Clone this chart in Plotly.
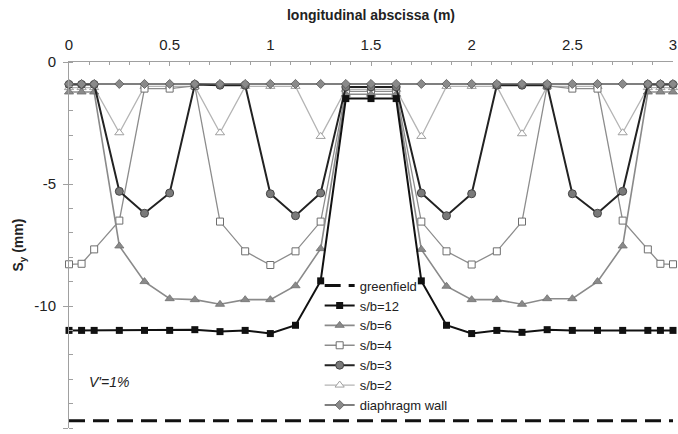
import plotly.graph_objects as go

# longitudinal positions of the computed points (m)
x_pos = [0, 0.0625, 0.125, 0.25, 0.375, 0.5, 0.625, 0.75, 0.875, 1.0, 1.125,
         1.25, 1.375, 1.5, 1.625, 1.75, 1.875, 2.0, 2.125, 2.25, 2.375, 2.5,
         2.625, 2.75, 2.875, 2.9375, 3.0]

# vertical displacement S_y (mm) for each configuration
greenfield_x = [0, 3]
greenfield = [-14.7, -14.7]

sb12 = [-11.0, -11.0, -11.0, -11.0, -11.0, -11.0, -10.97, -11.05, -11.0, -11.13,
        -10.79, -8.97, -1.5, -1.5, -1.5, -8.97, -10.79, -11.13, -11.0, -11.08,
        -10.97, -11.0, -11.0, -11.0, -11.0, -11.0, -11.0]

sb6 = [-1.23, -1.23, -1.23, -7.54, -9.0, -9.7, -9.74, -9.93, -9.74, -9.74,
       -9.17, -7.65, -1.32, -1.32, -1.32, -7.68, -9.19, -9.74, -9.74, -9.93,
       -9.7, -9.7, -9.0, -7.54, -1.23, -1.23, -1.23]

sb4 = [-8.29, -8.27, -7.68, -6.5, -1.09, -1.09, -0.98, -6.54, -7.76, -8.32,
       -7.76, -6.54, -1.2, -1.2, -1.2, -6.54, -7.76, -8.3, -7.76, -6.54,
       -0.98, -1.09, -1.09, -6.5, -7.68, -8.27, -8.29]

sb3 = [-0.92, -0.92, -0.92, -5.3, -6.2, -5.37, -0.92, -0.95, -0.95, -5.4,
       -6.3, -5.37, -1.02, -1.02, -1.02, -5.37, -6.3, -5.4, -0.95, -0.95,
       -0.95, -5.4, -6.2, -5.3, -0.92, -0.92, -0.92]

sb2 = [-1.05, -1.05, -1.05, -2.9, -1.0, -1.0, -1.0, -2.9, -1.0, -1.0,
       -1.0, -3.05, -1.12, -1.12, -1.12, -3.05, -1.0, -1.0, -1.0, -2.94,
       -1.0, -1.0, -1.0, -2.9, -1.05, -1.05, -1.05]

wall = [-0.9] * len(x_pos)

x_ticks = [0, 0.5, 1, 1.5, 2, 2.5, 3]
x_ticklabels = ["0", "0.5", "1", "1.5", "2", "2.5", "3"]
y_ticks = [0, -5, -10, -15]
y_ticklabels = ["0", "-5", "-10", "-15"]

FONT = "Liberation Sans, Arial, sans-serif"

fig = go.Figure()

# drawing order (bottom to top); legendrank sets the legend order
fig.add_trace(go.Scatter(
    x=x_pos, y=sb2, name="s/b=2", mode="lines+markers", legendrank=6,
    line=dict(color="#b4b4b4", width=1.3),
    marker=dict(symbol="triangle-up", size=8, color="white",
                line=dict(color="#a0a0a0", width=1)),
    cliponaxis=False))
fig.add_trace(go.Scatter(
    x=x_pos, y=sb4, name="s/b=4", mode="lines+markers", legendrank=4,
    line=dict(color="#8c8c8c", width=1.3),
    marker=dict(symbol="square", size=7, color="white",
                line=dict(color="#6e6e6e", width=1)),
    cliponaxis=False))
fig.add_trace(go.Scatter(
    x=x_pos, y=sb6, name="s/b=6", mode="lines+markers", legendrank=3,
    line=dict(color="#8a8a8a", width=1.6),
    marker=dict(symbol="triangle-up", size=8, color="#8a8a8a",
                line=dict(color="#707070", width=0.8)),
    cliponaxis=False))
fig.add_trace(go.Scatter(
    x=x_pos, y=sb3, name="s/b=3", mode="lines+markers", legendrank=5,
    line=dict(color="#222222", width=2),
    marker=dict(symbol="circle", size=8, color="#7a7a7a",
                line=dict(color="#444444", width=1)),
    cliponaxis=False))
fig.add_trace(go.Scatter(
    x=x_pos, y=wall, name="diaphragm wall", mode="lines+markers", legendrank=7,
    line=dict(color="#555555", width=1.5),
    marker=dict(symbol="diamond", size=7, color="#8a8a8a",
                line=dict(color="#555555", width=0.8)),
    cliponaxis=False))
fig.add_trace(go.Scatter(
    x=x_pos, y=sb12, name="s/b=12", mode="lines+markers", legendrank=2,
    line=dict(color="#111111", width=2),
    marker=dict(symbol="square", size=7, color="#111111"),
    cliponaxis=False))
fig.add_trace(go.Scatter(
    x=greenfield_x, y=greenfield, name="greenfield", mode="lines", legendrank=1,
    line=dict(color="#111111", width=3, dash="16px,8px"),
    cliponaxis=False))

fig.add_annotation(
    x=0.2, y=-13.1, xref="x", yref="y", text="<i>V'=1%</i>", showarrow=False,
    font=dict(family=FONT, size=14, color="#222222"))

fig.update_layout(
    width=678, height=434,
    margin=dict(l=69, r=1, t=62, b=6),
    paper_bgcolor="white", plot_bgcolor="white",
    font=dict(family=FONT, size=15, color="#222222"),
    showlegend=True,
    legend=dict(
        x=0.415, y=0.43, xanchor="left", yanchor="top",
        bgcolor="rgba(255,255,255,0)", borderwidth=0,
        font=dict(family=FONT, size=13, color="#222222"),
        tracegroupgap=0, itemwidth=30),
    xaxis=dict(
        side="top", range=[0, 3], tickvals=x_ticks, ticktext=x_ticklabels,
        showgrid=False, zeroline=False, showline=True, linecolor="#a0a0a0",
        linewidth=1, ticks="inside", ticklen=4, tickcolor="#a0a0a0",
        minor=dict(dtick=0.1, ticks="inside", ticklen=3, tickcolor="#a0a0a0"),
        tickfont=dict(family=FONT, size=15, color="#222222"),
        ticklabeloverflow="allow", ticklabelstandoff=5,
        title=dict(text="<b>longitudinal abscissa (m)</b>", standoff=12,
                   font=dict(family=FONT, size=14, color="#222222"))),
    yaxis=dict(
        range=[-15, 0], tickvals=y_ticks, ticktext=y_ticklabels,
        showgrid=False, zeroline=False, showline=True, linecolor="#a0a0a0",
        linewidth=1, ticks="outside", ticklen=5, tickcolor="#a0a0a0",
        minor=dict(dtick=1, ticks="inside", ticklen=4, tickcolor="#a0a0a0"),
        tickfont=dict(family=FONT, size=15, color="#222222"),
        ticklabelstandoff=4,
        title=dict(text="<b>S<sub>y</sub> (mm)</b>", standoff=7,
                   font=dict(family=FONT, size=14, color="#222222"))),
)

fig.write_html("out.html")
